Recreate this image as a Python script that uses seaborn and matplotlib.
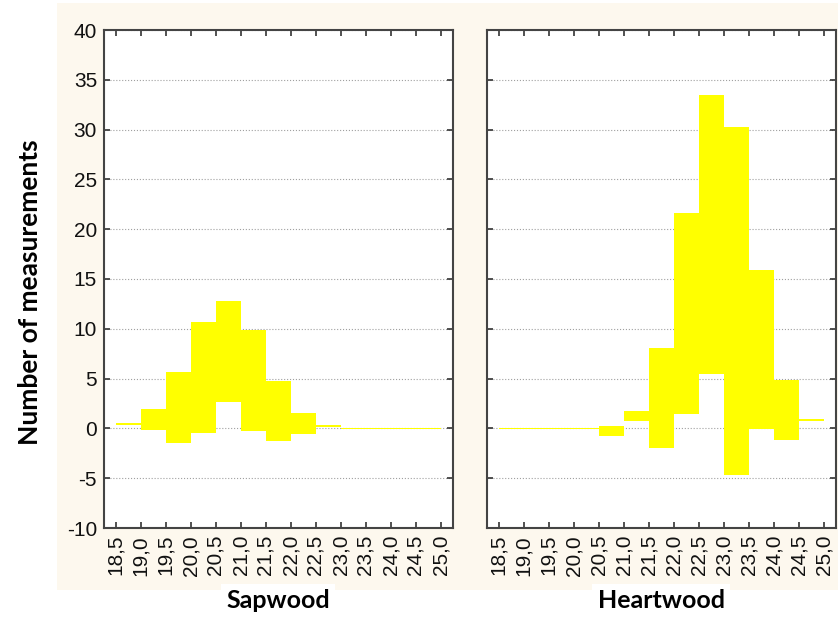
import matplotlib
matplotlib.use('Agg')
import matplotlib.pyplot as plt
import seaborn as sns
import numpy as np
from matplotlib.patches import Rectangle

# tick labels (bin edges), comma decimal as in the original
edges = ['18,5', '19,0', '19,5', '20,0', '20,5', '21,0', '21,5',
         '22,0', '22,5', '23,0', '23,5', '24,0', '24,5', '25,0']

# floating bars: low / high value for each bin between consecutive edges
sap_low = [0.3, -0.2, -1.5, -0.5, 2.65, -0.3, -1.3, -0.6, 0.15, -0.05, -0.05, -0.05, -0.05]
sap_high = [0.5, 1.9, 5.7, 10.7, 12.8, 9.9, 4.8, 1.5, 0.3, 0.05, 0.05, 0.05, 0.05]

heart_low = [-0.05, -0.05, -0.05, -0.05, -0.8, 0.7, -2.0, 1.45, 5.45, -4.7, -0.1, -1.15, 0.75]
heart_high = [0.05, 0.05, 0.05, 0.05, 0.2, 1.7, 8.05, 21.6, 33.5, 30.3, 15.9, 4.9, 0.95]

sns.set_style('white')
plt.rcParams['font.family'] = ['Liberation Sans', 'DejaVu Sans']
plt.rcParams['axes.unicode_minus'] = False

fig = plt.figure(figsize=(8.38, 6.17), dpi=100, facecolor='white')
# cream background behind the plot area
fig.patches.append(Rectangle((57 / 838, 1 - 590 / 617), 1 - 57 / 838, (590 - 3) / 617,
                             transform=fig.transFigure, facecolor='#fdf8ee',
                             edgecolor='none', zorder=-10))

panels = [
    ('Sapwood', sap_low, sap_high, 104),
    ('Heartwood', heart_low, heart_high, 487),
]

for name, low, high, left_px in panels:
    ax = fig.add_axes([left_px / 838, 1 - 528 / 617, 349 / 838, (528 - 30) / 617])
    ax.set_zorder(5)
    ax.set_facecolor('white')
    low = np.array(low)
    high = np.array(high)
    x = np.arange(len(low))
    ax.bar(x, high - low, bottom=low, width=1.0, align='edge',
           color='#ffff00', edgecolor='none', zorder=2)
    ax.set_xlim(-0.46, 13.5)
    ax.set_ylim(-10, 40)
    ax.set_yticks(np.arange(-10, 41, 5))
    ax.set_xticks(np.arange(len(edges)))
    ax.set_xticklabels(edges, rotation=90)
    ax.yaxis.grid(True, linestyle=':', color='#a0a0a0', linewidth=0.8, zorder=1)
    ax.xaxis.grid(False)
    ax.tick_params(axis='both', direction='in', length=4, width=1.2, color='#333333',
                   top=True, right=True, bottom=True, left=True, labelsize=15,
                   labelcolor='#111111', pad=5)
    if name == 'Sapwood':
        ax.tick_params(axis='y', labelleft=True)
    else:
        ax.tick_params(axis='y', labelleft=False)
    for s in ax.spines.values():
        s.set_visible(True)
        s.set_color('#444444')
        s.set_linewidth(1.5)
    ax.set_xlabel('')
    ax.set_ylabel('')
    fig.text((left_px + 174) / 838, 1 - 601 / 617, name, ha='center', va='center',
             fontsize=18, fontweight='bold', color='black', family=['Lato', 'DejaVu Sans'],
             bbox=dict(facecolor='white', edgecolor='none', pad=4))

fig.text(30 / 838, 1 - 292 / 617, 'Number of measurements', rotation=90,
         ha='center', va='center', fontsize=19, fontweight='bold', color='black',
         family=['Lato', 'DejaVu Sans'])

fig.savefig('out.png', dpi=100, facecolor='white')
